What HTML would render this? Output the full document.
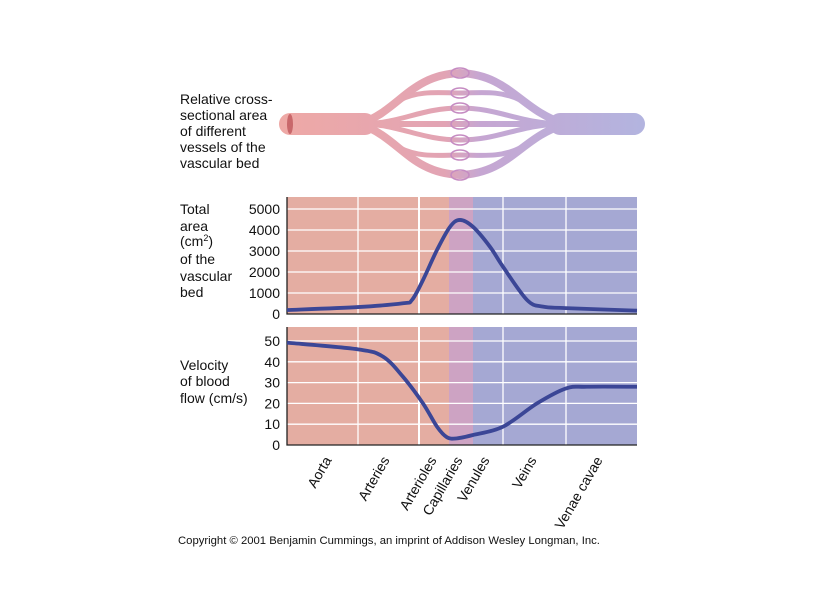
<!DOCTYPE html>
<html><head><meta charset="utf-8"><style>
html,body{margin:0;padding:0;background:#fff}
svg{display:block;font-family:"Liberation Sans",sans-serif}
</style></head><body>
<svg width="816" height="612" viewBox="0 0 816 612">
<defs>
<linearGradient id="vg" gradientUnits="userSpaceOnUse" x1="285" x2="640" y1="0" y2="0">
<stop offset="0" stop-color="#eea9a6"/><stop offset="0.45" stop-color="#e2a4b4"/><stop offset="0.55" stop-color="#c6a6d2"/><stop offset="1" stop-color="#b3b4df"/>
</linearGradient>
</defs>
<g id="vessels" fill="none" stroke="url(#vg)" stroke-linecap="round">
<path d="M290 124 L365 124" stroke-width="22"/>
<path d="M560 124 L634 124" stroke-width="22"/>
<path d="M360 124 C400 110 410 75 460 73 C510 75 520 110 565 124" stroke-width="8"/>
<path d="M360 124 C400 138 410 173 460 175 C510 173 520 138 565 124" stroke-width="8"/>
<path d="M400 100 C420 90 440 93 460 93 C480 93 500 90 520 100" stroke-width="5"/>
<path d="M400 148 C420 158 440 155 460 155 C480 155 500 158 520 148" stroke-width="5"/>
<path d="M360 124 C400 124 420 108 460 108 C500 108 520 124 565 124" stroke-width="5"/>
<path d="M360 124 C400 124 420 140 460 140 C500 140 520 124 565 124" stroke-width="5"/>
<path d="M360 124 L565 124" stroke-width="6"/>
<ellipse cx="290" cy="124" rx="3" ry="10" fill="#c9686b" stroke="none"/>
</g>
<g id="caps" fill="none" stroke="#c58bc2" stroke-width="1.5"></g>

<g font-size="14" fill="#111">
<text x="180" y="104">Relative cross-</text>
<text x="180" y="120">sectional area</text>
<text x="180" y="136">of different</text>
<text x="180" y="152">vessels of the</text>
<text x="180" y="168">vascular bed</text>
</g>
<g font-size="14" fill="#111">
<text x="180" y="214">Total</text>
<text x="180" y="231">area</text>
<text x="180" y="246">(cm<tspan font-size="9" dy="-5">2</tspan><tspan dy="5">)</tspan></text>
<text x="180" y="264">of the</text>
<text x="180" y="281">vascular</text>
<text x="180" y="297">bed</text>
</g>
<g font-size="14" fill="#111">
<text x="180" y="370">Velocity</text>
<text x="180" y="386">of blood</text>
<text x="180" y="403">flow (cm/s)</text>
</g>
<g id="plots"></g>
<text x="178" y="544" font-size="11.3" fill="#111">Copyright © 2001 Benjamin Cummings, an imprint of Addison Wesley Longman, Inc.</text>
</svg>
<script>
const categories=["Aorta","Arteries","Arterioles","Capillaries","Venules","Veins","Venae cavae"];
const categoryLabelX=[45,103,150,176,203,250,316];
const areaTicks=[0,1000,2000,3000,4000,5000];
const velTicks=[0,10,20,30,40,50];
const areaX=[0,71,116,125,136,150,163,173,186,203,216,240,256,279,350];
const areaY=[190,330,510,670,1620,3050,4150,4480,4150,3200,2250,670,350,280,160];
const velX=[0,71,96,116,136,150,160,170,186,216,250,279,300,350];
const velY=[49.2,46,42.5,32.8,20,8.8,3.7,3.2,4.8,8.8,20,27.2,28,28];
const ns="http://www.w3.org/2000/svg";
const root=document.getElementById('plots');
const X0=287,X1=637;
const sx=v=>X0+v*(X1-X0)/350;
function mk(t,a,p){const e=document.createElementNS(ns,t);for(const k in a)e.setAttribute(k,a[k]);(p||root).appendChild(e);return e;}
function smooth(pts){let d="M"+pts[0][0]+" "+pts[0][1];for(let i=0;i<pts.length-1;i++){const p0=pts[Math.max(0,i-1)],p1=pts[i],p2=pts[i+1],p3=pts[Math.min(pts.length-1,i+2)];const c1=[p1[0]+(p2[0]-p0[0])/6,p1[1]+(p2[1]-p0[1])/6],c2=[p2[0]-(p3[0]-p1[0])/6,p2[1]-(p3[1]-p1[1])/6];d+=` C${c1[0]} ${c1[1]} ${c2[0]} ${c2[1]} ${p2[0]} ${p2[1]}`;}return d;}
function panel(name,top,bottom,tickTop,ticks,max,xs,ys){
  const g=mk('g',{});
  
  
  const sy=v=>bottom-v*(bottom-tickTop)/max;
  const rc=["#e4ada2","#cda3c3","#a5a8d3"];
  const rb=[0,162,186,350];
  for(let i=0;i<3;i++){const r=mk('rect',{x:sx(rb[i]),y:top,width:sx(rb[i+1])-sx(rb[i]),height:bottom-top,fill:rc[i]},g);}
  ticks.forEach(t=>{if(t>0){const l=mk('line',{x1:X0,x2:X1,y1:sy(t),y2:sy(t),stroke:'#fff','stroke-width':1.3},g);}
    const tx=mk('text',{x:280,y:sy(t)+5,'text-anchor':'end','font-size':14,fill:'#111'},g);tx.textContent=t;});
  [71,132,216,279].forEach((v,i)=>{const l=mk('line',{x1:sx(v),x2:sx(v),y1:top,y2:bottom,stroke:'#fff','stroke-width':i==1?2:1.3},g);});
  const ax=mk('path',{d:`M${X0} ${top} L${X0} ${bottom} L${X1} ${bottom}`,stroke:'#222','stroke-width':1.3,fill:'none'},g);
  const pts=xs.map((x,i)=>[sx(x),sy(ys[i])]);
  const c=mk('path',{d:smooth(pts),stroke:'#3b4696','stroke-width':3.8,fill:'none','stroke-linejoin':'round'},g);
  
  
}
panel('area',197,314,209,areaTicks,5000,areaX,areaY);
panel('velocity',327,445,341,velTicks,50,velX,velY);
categories.forEach((c,i)=>{const x=X0+categoryLabelX[i]*(X1-X0)/350;
  const t=mk('text',{x:x,y:460,'text-anchor':'end','font-size':14,fill:'#111',transform:`rotate(-60 ${x} 460)`});
  t.textContent=c;
  
  });
const caps=document.getElementById('caps');
[73,93,108,124,140,155,175].forEach(y=>{const e=mk('ellipse',{cx:460,cy:y,rx:9,ry:5},caps);});
</script>
</body></html>
